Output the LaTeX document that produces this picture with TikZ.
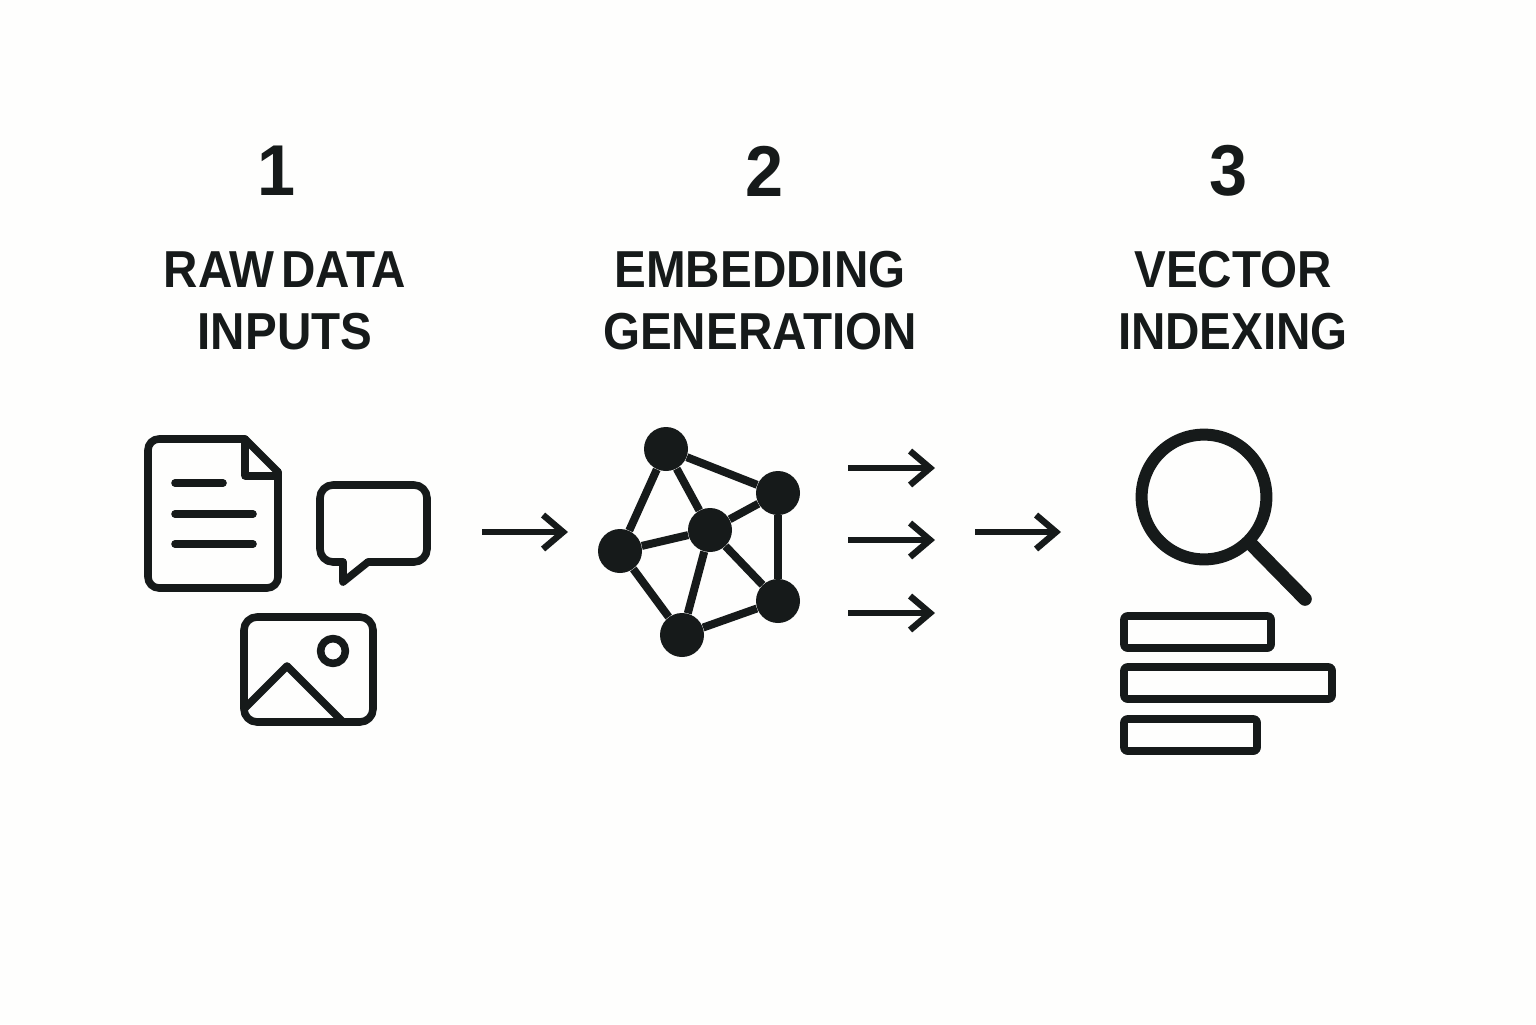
\documentclass[tikz,border=0pt]{standalone}
\usepackage{fontspec}
\setmainfont{Liberation Sans}
\newfontfamily\headfont[FakeStretch=0.915]{Liberation Sans}
\newfontfamily\numfont[FakeStretch=0.95]{Liberation Sans}
\usetikzlibrary{arrows.meta}
\definecolor{ink}{HTML}{161A1A}
\definecolor{paper}{HTML}{FEFEFD}
\tikzset{
  x=0.5pt,y=-0.5pt,
  icon/.style={draw=ink,line width=3.8pt,line join=round,line cap=round},
  vertex/.style={circle,fill=ink,inner sep=0pt,minimum size=22pt},
  edge/.style={draw=ink,line width=4pt},
  flow/.style={draw=ink,line width=3.2pt,-{Straight Barb[length=10pt,width=17pt,line width=3.2pt]}},
  num/.style={font=\numfont\fontsize{36}{36}\selectfont\bfseries,text=ink,inner sep=0pt,anchor=center},
  head/.style={font=\headfont\fontsize{26}{31}\selectfont\bfseries,text=ink,inner sep=0pt,align=center,anchor=center},
}
\begin{document}
\begin{tikzpicture}
\fill[paper] (0,0) rectangle (1536,1024);
\useasboundingbox (0,0) rectangle (1536,1024);
% titles
\node[num] (n1) at (277,171) {1};
\node[num] (n2) at (765,171) {2};
\node[num] (n3) at (1229,171) {3};
\node[head] (t1) at (285,301) {RAW\hspace{-3.5pt} DATA\\INPUTS};
\node[head] (t2) at (760,301) {EMBEDDING\\GENERATION};
\node[head] (t3) at (1233,301) {VECTOR\\INDEXING};
% document
\draw[icon,rounded corners=5.5pt] (245,439) -- (148,439) -- (148,588) -- (278,588) -- (278,472);
\draw[icon] (245,439) -- (278,472) -- (278,476) -- (245,476) -- cycle;
\draw[icon] (175,483) -- (223,483);
\draw[icon] (175,514) -- (253,514);
\draw[icon] (175,544) -- (253,544);
% speech bubble
\draw[icon,rounded corners=6.5pt] (343,562) -- (320,562) -- (320,485) -- (427,485) -- (427,562) -- (368,562);
\draw[icon] (343,562) -- (343,582) -- (368,562);
% image
\draw[icon,rounded corners=6.5pt] (244,617) rectangle (373,722);
\draw[icon] (333,651) circle[radius=6.2pt];
\draw[icon] (246,707) -- (287,666) -- (342,721);
% network
\node[vertex] (A) at (666,449) {};
\node[vertex] (B) at (778,493) {};
\node[vertex] (C) at (710,530) {};
\node[vertex] (D) at (620,551) {};
\node[vertex] (E) at (778,601) {};
\node[vertex] (F) at (682,635) {};
\foreach \u/\v in {A/B,A/C,A/D,B/C,B/E,C/D,C/E,C/F,D/F,E/F}
  \draw[edge] (\u) -- (\v);
% arrows
\coordinate (a1s) at (482,532); \coordinate (a1e) at (568,532);
\coordinate (a2s) at (975,532); \coordinate (a2e) at (1061,532);
\coordinate (b1s) at (848,468); \coordinate (b1e) at (935,468);
\coordinate (b2s) at (848,540); \coordinate (b2e) at (935,540);
\coordinate (b3s) at (848,613); \coordinate (b3e) at (935,613);
\foreach \s/\e in {a1s/a1e,a2s/a2e,b1s/b1e,b2s/b2e,b3s/b3e}
  \draw[flow] (\s) -- (\e);
% magnifier
\draw[draw=ink,line width=6pt] (1204,497) circle[radius=31.2pt];
\draw[draw=ink,line width=6.8pt,line cap=round] (1250,543) -- (1305,599);
% bars
\draw[icon,rounded corners=1.5pt] (1124,616) rectangle (1271,648);
\draw[icon,rounded corners=1.5pt] (1124,667) rectangle (1332,699);
\draw[icon,rounded corners=1.5pt] (1124,719) rectangle (1257,751);
\end{tikzpicture}
\end{document}
